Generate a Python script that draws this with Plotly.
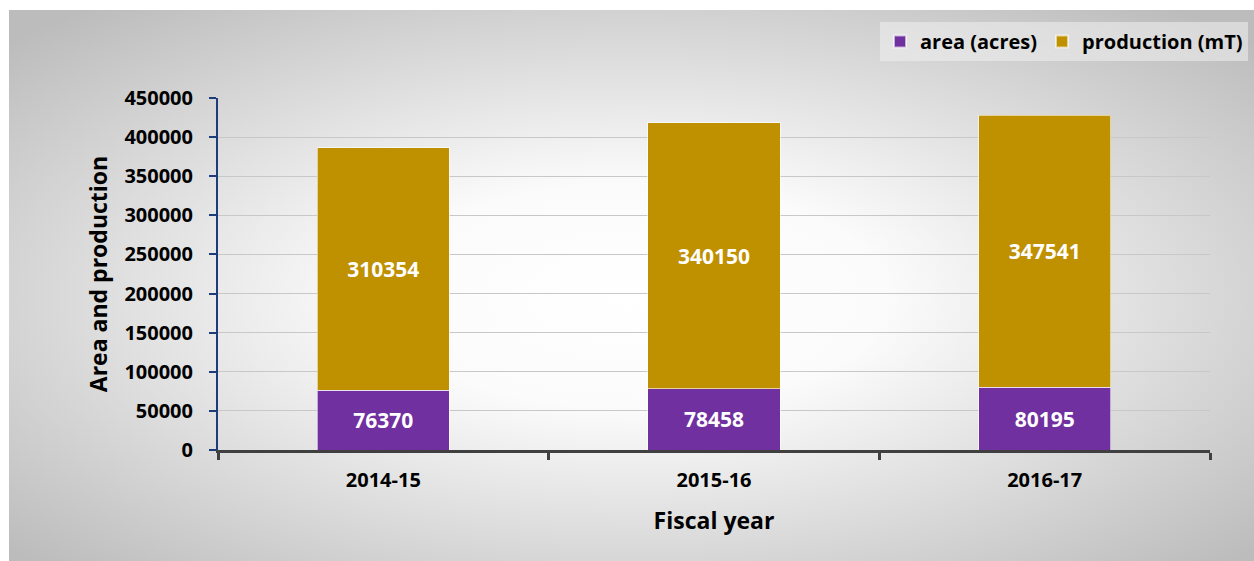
import base64
import plotly.graph_objects as go

# Fiscal years and values
years = ["2014-15", "2015-16", "2016-17"]
area_acres = [76370, 78458, 80195]
production_mt = [310354, 340150, 347541]

y_ticks = [0, 50000, 100000, 150000, 200000, 250000, 300000, 350000, 400000, 450000]

FONT = "Open Sans"
PURPLE = "#7030a0"
GOLD = "#bf9000"

# Plot area geometry in pixels (figure 1254 x 561)
W, H = 1254, 561
L, R, T, B = 218, 44, 98, 111
pw, ph = W - L - R, H - T - B

def to_paper_x(px):
    return (px - L) / pw

def to_paper_y(py):
    return (H - B - py) / ph

# Radial gradient panel behind the chart
svg = (
    '<svg xmlns="http://www.w3.org/2000/svg" width="1245" height="551" '
    'preserveAspectRatio="none" viewBox="0 0 1245 551">'
    '<defs><radialGradient id="g" cx="50%" cy="52%" r="68%">'
    '<stop offset="0" stop-color="#ffffff"/>'
    '<stop offset="0.3" stop-color="#fbfbfb"/>'
    '<stop offset="1" stop-color="#bcbcbc"/>'
    '</radialGradient></defs>'
    '<rect width="1245" height="551" fill="url(#g)"/></svg>'
)
svg_uri = "data:image/svg+xml;base64," + base64.b64encode(svg.encode()).decode()

fig = go.Figure()

fig.add_trace(go.Bar(
    name="area (acres)",
    x=years, y=area_acres,
    marker=dict(color=PURPLE, line=dict(color="rgba(255,255,255,0.6)", width=1)),
    texttemplate="%{y}", textposition="inside", insidetextanchor="middle",
    textangle=0, constraintext="none",
    textfont=dict(family=FONT, size=21, color="white", weight="bold"),
))
fig.add_trace(go.Bar(
    name="production (mT)",
    x=years, y=production_mt,
    marker=dict(color=GOLD, line=dict(color="rgba(255,255,255,0.6)", width=1)),
    texttemplate="%{y}", textposition="inside", insidetextanchor="middle",
    textangle=0, constraintext="none",
    textfont=dict(family=FONT, size=21, color="white", weight="bold"),
))

fig.update_layout(
    width=W, height=H,
    margin=dict(l=L, r=R, t=T, b=B, autoexpand=False),
    barmode="stack",
    bargap=0.6,
    paper_bgcolor="white",
    plot_bgcolor="rgba(0,0,0,0)",
    font=dict(family=FONT, color="black"),
    showlegend=True,
    legend=dict(
        orientation="h",
        x=to_paper_x(1248), xanchor="right",
        y=to_paper_y(22), yanchor="top",
        bgcolor="rgba(240,240,240,0.55)",
        font=dict(family=FONT, size=20, color="black", weight="bold"),
        itemsizing="constant",
        traceorder="normal",
        entrywidth=0,
    ),
    images=[dict(
        source=svg_uri,
        xref="paper", yref="paper",
        x=to_paper_x(9), y=to_paper_y(10),
        sizex=to_paper_x(W) - to_paper_x(9),
        sizey=to_paper_y(10) - to_paper_y(H),
        xanchor="left", yanchor="top",
        sizing="stretch", layer="below",
    )],
    xaxis=dict(
        showline=True, linecolor="#404040", linewidth=3,
        ticks="outside", tickson="boundaries", ticklen=7, tickwidth=3, tickcolor="#404040",
        tickfont=dict(family=FONT, size=20, color="black", weight="bold"),
        ticklabelstandoff=10,
        title=dict(text="Fiscal year", standoff=21,
                   font=dict(family=FONT, size=23, color="black", weight="bold")),
        showgrid=False,
    ),
    yaxis=dict(
        range=[0, 450000],
        tickvals=y_ticks, tickformat="d",
        showline=True, linecolor="#1f3c7a", linewidth=2,
        ticks="outside", ticklen=7, tickwidth=2, tickcolor="#1f3c7a",
        tickfont=dict(family=FONT, size=20, color="black", weight="bold"),
        ticklabelstandoff=12,
        showgrid=True, gridcolor="#c8c8c8", gridwidth=1,
        zeroline=False,
        title=dict(text="Area and production", standoff=10,
                   font=dict(family=FONT, size=23, color="black", weight="bold")),
    ),
)

fig.write_html("out.html")
